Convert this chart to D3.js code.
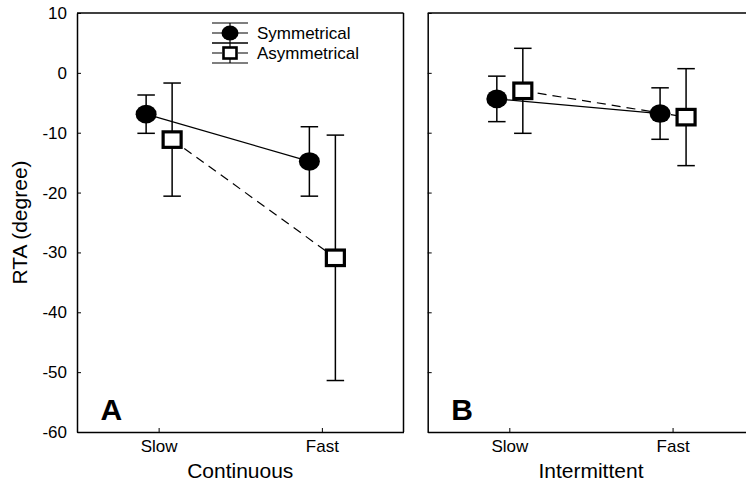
<!DOCTYPE html>
<html>
<head>
<meta charset="utf-8">
<script src="https://cdn.jsdelivr.net/npm/d3@7"></script>
<style>
  body { margin: 0; background: #fff; }
  svg { display: block; font-family: "Liberation Sans", Arial, sans-serif; }
</style>
</head>
<body>
<div id="chart"></div>
<script>
// data
let categories = ['Slow', 'Fast'];
let panelNames = ['Continuous', 'Intermittent'];
let panelLetters = ['A', 'B'];
let seriesNames = ['Symmetrical', 'Asymmetrical'];
let symMean = [[-6.9, -14.8], [-4.35, -6.8]];
let symErr = [[3.2, 5.8], [3.8, 4.3]];
let asymMean = [[-11.15, -30.9], [-3.0, -7.4]];
let asymErr = [[9.45, 20.5], [7.1, 8.1]];
let yTicks = [10, 0, -10, -20, -30, -40, -50, -60];

let W = 746, H = 486;
let plotTop = 13, plotBottom = 432;
let panelX = [[77, 403.5], [427.7, 754.2]];

let svg = d3.select('#chart')
    .append('svg')
    .attr('width', W)
    .attr('height', H);

let y = d3.scaleLinear().domain([-60, 10]).range([plotBottom, plotTop]);

let offset = { sym: -12.5, asym: 13.5 };

function errorBar(g, cx, m, e) {
    let cap = 8.75;
    g.append('line').attr('x1', cx).attr('x2', cx)
        .attr('y1', y(m + e)).attr('y2', y(m - e));
    g.append('line').attr('x1', cx - cap).attr('x2', cx + cap)
        .attr('y1', y(m + e)).attr('y2', y(m + e));
    g.append('line').attr('x1', cx - cap).attr('x2', cx + cap)
        .attr('y1', y(m - e)).attr('y2', y(m - e));
}

panelNames.forEach(function (name, p) {
    let x = d3.scalePoint().domain(categories).range(panelX[p]).padding(0.5);
    let g = svg.append('g');

    // y axis, ticks pointing inward
    let yAxis = d3.axisLeft(y).tickValues(yTicks).tickSizeInner(-4).tickSizeOuter(0).tickPadding(10)
        .tickFormat(function (d) { return p == 1 ? '' : String(d); });
    g.append('g')
        .attr('transform', 'translate(' + panelX[p][0] + ',0)')
        .call(yAxis)
        .call(function (a) {
            a.select('.domain').attr('stroke-width', 1.5);
            a.selectAll('.tick line').attr('stroke-width', 1);
            a.selectAll('text').attr('font-size', 17).attr('fill', '#000').attr('font-family', null);
        });

    let xAxis = d3.axisBottom(x).tickSizeInner(-4).tickSizeOuter(0).tickPadding(8);
    g.append('g')
        .attr('transform', 'translate(0,' + plotBottom + ')')
        .call(xAxis)
        .call(function (a) {
            a.select('.domain').attr('stroke-width', 1.5);
            a.selectAll('.tick line').attr('stroke-width', 1);
            a.selectAll('text').attr('font-size', 17).attr('fill', '#000').attr('font-family', null);
        });

    // frame
    g.append('line').attr('x1', panelX[p][0]).attr('x2', panelX[p][1])
        .attr('y1', plotTop).attr('y2', plotTop).attr('stroke', '#000').attr('stroke-width', 1.5);
    if (p == 0) {
        g.append('line').attr('x1', panelX[p][1]).attr('x2', panelX[p][1])
            .attr('y1', plotTop).attr('y2', plotBottom).attr('stroke', '#000').attr('stroke-width', 1.5);
    }

    // connecting lines
    let symLine = d3.line()
        .x(function (d, i) { return x(categories[i]) + offset.sym; })
        .y(function (d) { return y(d); });
    let asymLine = d3.line()
        .x(function (d, i) { return x(categories[i]) + offset.asym; })
        .y(function (d) { return y(d); });

    g.append('path').datum(symMean[p]).attr('d', symLine)
        .attr('fill', 'none').attr('stroke', '#000').attr('stroke-width', 1.2);
    g.append('path').datum(asymMean[p]).attr('d', asymLine)
        .attr('fill', 'none').attr('stroke', '#000').attr('stroke-width', 1.2)
        .attr('stroke-dasharray', '9,6');

    // error bars
    let eb = g.append('g').attr('stroke', '#000').attr('stroke-width', 1.5);
    categories.forEach(function (c, i) {
        errorBar(eb, x(c) + offset.sym, symMean[p][i], symErr[p][i]);
        errorBar(eb, x(c) + offset.asym, asymMean[p][i], asymErr[p][i]);
    });

    // markers
    g.selectAll('.sym')
        .data(symMean[p])
        .enter()
        .append('ellipse')
        .attr('cx', function (d, i) { return x(categories[i]) + offset.sym; })
        .attr('cy', function (d) { return y(d); })
        .attr('rx', 10.5)
        .attr('ry', 9.3)
        .style('fill', '#000');

    g.selectAll('.asym')
        .data(asymMean[p])
        .enter()
        .append('rect')
        .attr('x', function (d, i) { return x(categories[i]) + offset.asym - 9; })
        .attr('y', function (d) { return y(d) - 7.75; })
        .attr('width', 18)
        .attr('height', 15.5)
        .style('fill', '#fff')
        .style('stroke', '#000')
        .style('stroke-width', 3.2);

    // titles
    g.append('text')
        .attr('x', (panelX[p][0] + panelX[p][1]) / 2)
        .attr('y', 478)
        .attr('text-anchor', 'middle')
        .attr('font-size', 21)
        .text(name);

    g.append('text')
        .attr('x', panelX[p][0] + 23.5)
        .attr('y', 420)
        .attr('font-size', 30)
        .attr('font-weight', 'bold')
        .text(panelLetters[p]);
});

svg.append('text')
    .attr('transform', 'translate(26.5,' + (plotTop + plotBottom) / 2 + ') rotate(-90)')
    .attr('text-anchor', 'middle')
    .attr('font-size', 21)
    .text('RTA (degree)');

// legend
let leg = svg.append('g').attr('stroke', '#000').attr('stroke-width', 1.2);
let lx = 230, ly = [33, 53];
ly.forEach(function (cy, i) {
    leg.append('line').attr('x1', lx - 18).attr('x2', lx + 18).attr('y1', cy).attr('y2', cy)
        .attr('stroke-dasharray', i == 1 ? '10,16' : null);
    leg.append('line').attr('x1', lx).attr('x2', lx).attr('y1', cy - 10).attr('y2', cy + 10);
    leg.append('line').attr('x1', lx - 18).attr('x2', lx + 18).attr('y1', cy - 10).attr('y2', cy - 10);
    leg.append('line').attr('x1', lx - 18).attr('x2', lx + 18).attr('y1', cy + 10).attr('y2', cy + 10);
    if (i == 0) {
        leg.append('ellipse').attr('cx', lx).attr('cy', cy).attr('rx', 8.5).attr('ry', 7.5)
            .attr('fill', '#000').attr('stroke', 'none');
    } else {
        leg.append('rect').attr('x', lx - 6.5).attr('y', cy - 5.5).attr('width', 13).attr('height', 11)
            .attr('fill', '#fff').attr('stroke-width', 2.6);
    }
    svg.append('text')
        .attr('x', 257)
        .attr('y', cy + 6)
        .attr('font-size', 17)
        .text(seriesNames[i]);
});
</script>
</body>
</html>
